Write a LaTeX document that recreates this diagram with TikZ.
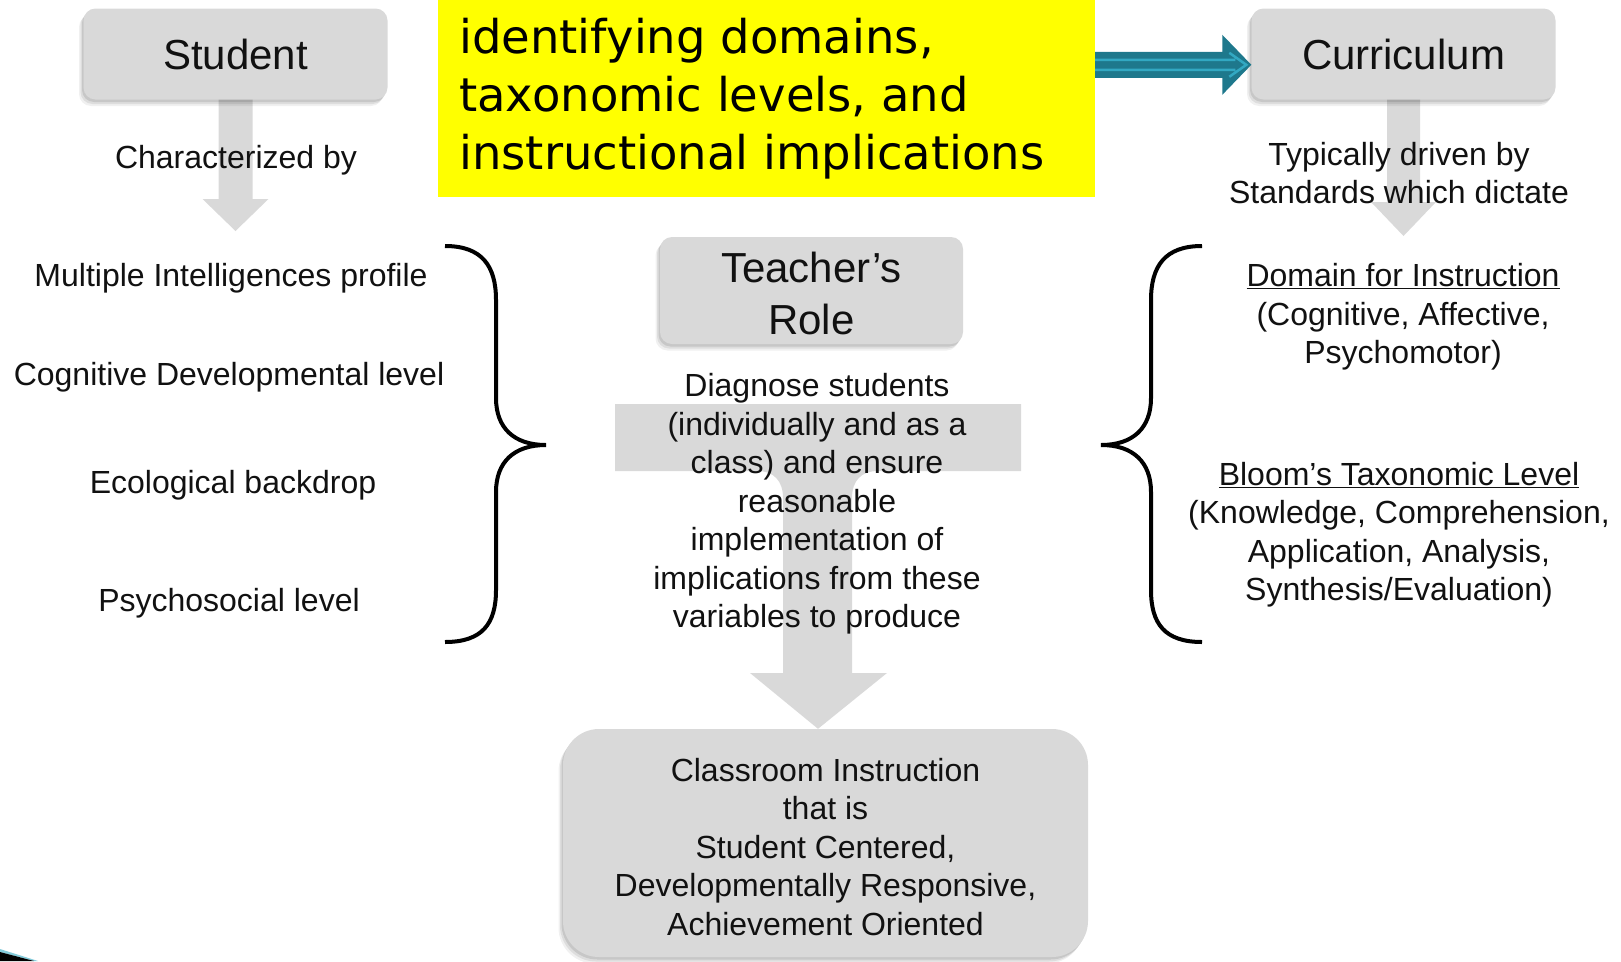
\documentclass[tikz,border=0pt]{standalone}
\usepackage{fontspec}
\setmainfont{Liberation Sans}
\newfontfamily\bannerfont{DejaVu Sans}
\usetikzlibrary{calc,shadows}
\pgfdeclarelayer{back}
\pgfsetlayers{back,main}

\definecolor{panelgray}{RGB}{217,217,217}
\definecolor{tealdark}{RGB}{30,120,140}
\definecolor{teallight}{RGB}{50,168,194}
\definecolor{ink}{RGB}{17,17,17}
\definecolor{banner}{RGB}{255,255,0}

\tikzset{
  softshadow/.style={
    general shadow={fill=black, opacity=0.10, shadow xshift=-1.5pt, shadow yshift=-2.5pt},
    general shadow={fill=black, opacity=0.08, shadow xshift=-3pt, shadow yshift=-4.5pt},
    general shadow={fill=black, opacity=0.06, shadow xshift=-4.5pt, shadow yshift=-6.5pt}
  },
  panel/.style={softshadow, fill=panelgray, inner sep=0pt, align=center, text=ink},
  titlefont/.style={font=\fontsize{42}{52}\selectfont},
  bodytext/.style={inner sep=0pt, align=center, text=ink, font=\fontsize{32}{38.5}\selectfont},
  bracket/.style={draw=black, line width=4pt},
  blockarrow/.style={fill=panelgray},
}

% downward block arrow: start, tip, half stem width, half head width, head length
\newcommand\downblockarrow[5]{%
  \fill[blockarrow] let \p1=(#1), \p2=(#2) in
    (\x1-#3pt,\y1+2pt) -- (\x1+#3pt,\y1+2pt) -- (\x1+#3pt,\y2+#5pt) --
    (\x1+#4pt,\y2+#5pt) -- (\x1,\y2) -- (\x1-#4pt,\y2+#5pt) --
    (\x1-#3pt,\y2+#5pt) -- cycle;}

\begin{document}
\begin{tikzpicture}[x=1pt,y=-1pt]
\useasboundingbox (0,0) rectangle (1621,961);

% top row
\node[panel, titlefont, rounded corners=12pt, minimum width=304pt, minimum height=91pt] (student) at (235.5,54) {Student};
\node[panel, titlefont, rounded corners=12pt, minimum width=304pt, minimum height=91pt] (curriculum) at (1403.5,54) {Curriculum};
\node[fill=banner, minimum width=657pt, minimum height=197pt, inner sep=0pt] (focus) at (766.5,98.5) {};
\node[anchor=west, inner sep=0pt, align=left, text=black, font=\bannerfont\fontsize{46.5}{58}\selectfont] (focustext) at (459,99) {identifying domains,\\taxonomic levels, and\\instructional implications};

% teal arrow into the curriculum box
\coordinate (tealstart) at ($(focus.north east)+(0,65)$);
\coordinate (tealtip) at (tealstart -| curriculum.west);
\fill[tealdark] let \p1=(tealstart), \p2=(tealtip) in
  (\x1,\y1+13pt) -- (\x2-29pt,\y1+13pt) -- (\x2-29pt,\y1+30pt) -- (\x2,\y1) --
  (\x2-29pt,\y1-30pt) -- (\x2-29pt,\y1-13pt) -- (\x1,\y1-13pt) -- cycle;
\draw[teallight, line width=2.5pt] let \p1=(tealstart), \p2=(tealtip) in
  (\x1,\y1+5pt) -- (\x2-16pt,\y1+5pt)
  (\x1,\y1-5pt) -- (\x2-16pt,\y1-5pt)
  (\x2-22pt,\y1+12pt) -- (\x2-5pt,\y1) -- (\x2-22pt,\y1-12pt);

% captions under the title boxes
\node[bodytext] (characterized) at (236,160.5) {Characterized by};
\node[bodytext] (driven) at (1399,173) {Typically driven by\\Standards which dictate};

% student characteristics
\node[bodytext] (mi) at (231,278.5) {Multiple Intelligences profile};
\node[bodytext] (cog) at (229,377.5) {Cognitive Developmental level};
\node[bodytext] (eco) at (233,485.5) {Ecological backdrop};
\node[bodytext] (psy) at (229,603.5) {Psychosocial level};

% curriculum components
\node[bodytext] (domain) at (1403,317) {\underline{Domain for Instruction}\\(Cognitive, Affective,\\Psychomotor)};
\node[bodytext] (bloom) at (1399,534.5) {\underline{Bloom’s Taxonomic Level}\\(Knowledge, Comprehension,\\Application, Analysis,\\Synthesis/Evaluation)};

% teacher column
\node[panel, rounded corners=12pt, minimum width=303pt, minimum height=107pt] (role) at (811.5,290.5) {};
\node[inner sep=0pt, align=center, text=ink, titlefont] (roletext) at (811.5,293) {Teacher’s\\Role};
\node[bodytext] (diagnose) at (817,504) {Diagnose students\\(individually and as a\\class) and ensure\\reasonable\\implementation of\\implications from these\\variables to produce};
\node[panel, rounded corners=36pt, minimum width=525pt, minimum height=228pt] (outcome) at (825.5,843) {};
\node[bodytext] (outcometext) at (825.5,847) {Classroom Instruction\\that is\\Student Centered,\\Developmentally Responsive,\\Achievement Oriented};

% braces
\draw[bracket] (445,246) .. controls (482,246) and (496,266) .. (496,300) -- (496,398)
  .. controls (496,428) and (514,445) .. (546,445)
  .. controls (514,445) and (496,462) .. (496,492) -- (496,590)
  .. controls (496,624) and (482,642) .. (445,642);
\draw[bracket] (1202,246) .. controls (1165,246) and (1151,266) .. (1151,300) -- (1151,398)
  .. controls (1151,428) and (1133,445) .. (1101,445)
  .. controls (1133,445) and (1151,462) .. (1151,492) -- (1151,590)
  .. controls (1151,624) and (1165,642) .. (1202,642);

% grey block arrows behind the text
\coordinate (studenttip) at (235.5,231);
\coordinate (curriculumtip) at (1403.5,236);
\coordinate (tbar) at (818,404);
\begin{pgfonlayer}{back}
\downblockarrow{student.south}{studenttip}{17}{33}{32}
\downblockarrow{curriculum.south}{curriculumtip}{16.5}{32.5}{34}
\fill[blockarrow] (615,404) -- (1021,404) -- (1021,471) -- (878,471)
  .. controls (861,471) and (852,481) .. (852,498) -- (852,673) -- (887,673)
  -- (tbar |- outcome.north) -- (750,673) -- (783,673) -- (783,498)
  .. controls (783,481) and (774,471) .. (757,471) -- (615,471) -- cycle;
\end{pgfonlayer}

% corner fragment
\fill[teallight!60] (0,949) -- (38,961) -- (34,961) -- (0,952) -- cycle;
\fill[black] (0,952) -- (34,961) -- (0,961) -- cycle;
\end{tikzpicture}
\end{document}
